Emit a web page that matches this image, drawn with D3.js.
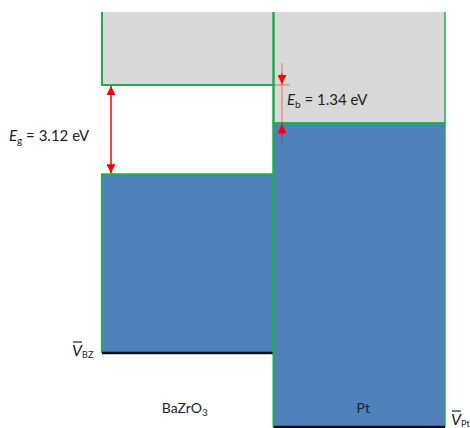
<!DOCTYPE html>
<html><head><meta charset="utf-8">
<script src="https://cdn.jsdelivr.net/npm/d3@7"></script>
<style>body{margin:0;background:#fff}svg{display:block}text{font-family:Lato,"Open Sans",sans-serif;fill:#222}</style>
</head><body><svg id="c" width="470" height="428"></svg>
<script>
// Energy levels in eV (CBM of BaZrO3 = 0)
const materials = ["BaZrO3", "Pt"];
const topLevel = [2.55, 2.55];          // top of drawn region
const upperEdge = [0, -1.34];           // CBM (BaZrO3) / Fermi level (Pt)
const lowerEdge = [-3.12, -1.34];       // VBM (BaZrO3) / Fermi level (Pt)
const bottomLevel = [-9.37, -11.96];    // V̄ reference levels
const gapValues = [3.12, 1.34];         // Eg, Eb

const svg = d3.select("#c");
const x = d3.scaleBand().domain(materials).range([102, 445]).padding(0);
const y = d3.scaleLinear().domain([2.55, -11.96]).range([12, 427]);

const green = "#1fae4f", gray = "#d9d9d9", blue = "#4f81bd", red = "#ff0000";

const defs = svg.append("defs");
defs.append("marker").attr("id","ah").attr("viewBox","0 0 10 10").attr("refX",10).attr("refY",5)
  .attr("markerWidth",10).attr("markerHeight",9).attr("markerUnits","userSpaceOnUse").attr("orient","auto")
  .append("path").attr("d","M0,0L10,5L0,10Z").attr("fill",red);

materials.forEach((m,i)=>{
  const x0 = x(m);
  svg.append("rect").attr("x",x0).attr("y",y(topLevel[i])).attr("width",x.bandwidth())
     .attr("height",y(upperEdge[i])-y(topLevel[i])).attr("fill",gray);
  svg.append("rect").attr("x",x0).attr("y",y(lowerEdge[i])).attr("width",x.bandwidth())
     .attr("height",y(bottomLevel[i])-y(lowerEdge[i])).attr("fill",blue);
});
materials.forEach((m,i)=>{
  const x0 = x(m), x1 = x(m)+x.bandwidth();
  const g = svg.append("g").attr("fill","none").attr("stroke",green).attr("stroke-width",2);
  g.append("path").attr("d",`M${x0},${y(topLevel[i])}V${y(upperEdge[i])}H${x1}`);
  g.append("path").attr("d",`M${x0},${y(bottomLevel[i])}V${y(lowerEdge[i])}H${x1}`);
  g.append("path").attr("d",`M${x1},${y(topLevel[i])}V${y(bottomLevel[i])}`).attr("stroke-width", i===1?1.5:2);
  svg.append("line").attr("x1",x0).attr("x2",x1).attr("y1",y(bottomLevel[i])).attr("y2",y(bottomLevel[i]))
     .attr("stroke","#111").attr("stroke-width",2.5);
});

// Eg arrow (double headed)
const ax = 111;
svg.append("line").attr("x1",ax).attr("x2",ax).attr("y1",y(lowerEdge[0])-1).attr("y2",y(upperEdge[0])+1)
  .attr("stroke",red).attr("stroke-width",1).attr("marker-end","url(#ah)");
svg.append("line").attr("x1",ax).attr("x2",ax).attr("y1",y(upperEdge[0])+1).attr("y2",y(lowerEdge[0])-1)
  .attr("stroke",red).attr("stroke-width",1).attr("marker-end","url(#ah)");

// Eb arrows (pointing inward)
const bx = 282;
svg.append("line").attr("x1",bx).attr("x2",bx).attr("y1",y(upperEdge[0])-22).attr("y2",y(lowerEdge[1])+20)
  .attr("stroke",red).attr("stroke-opacity",0.5).attr("stroke-width",1);
svg.append("line").attr("x1",274).attr("x2",290).attr("y1",y(upperEdge[0])).attr("y2",y(upperEdge[0]))
  .attr("stroke",red).attr("stroke-opacity",0.5).attr("stroke-width",1);
svg.append("line").attr("x1",bx).attr("x2",bx).attr("y1",y(upperEdge[0])-12).attr("y2",y(upperEdge[0])-1)
  .attr("stroke",red).attr("stroke-width",1).attr("marker-end","url(#ah)");
svg.append("line").attr("x1",bx).attr("x2",bx).attr("y1",y(upperEdge[1])+12).attr("y2",y(upperEdge[1])+1)
  .attr("stroke",red).attr("stroke-width",1).attr("marker-end","url(#ah)");

// Labels
function eLabel(xp, yp, sub, val){
  const t = svg.append("text").attr("x",xp).attr("y",yp).attr("font-size",15);
  t.append("tspan").attr("font-style","italic").text("E");
  t.append("tspan").attr("font-size",10).attr("dy",3).text(sub);
  t.append("tspan").attr("dy",-3).text(" = " + val.toFixed(2) + " eV");
}
eLabel(9, 141, "g", gapValues[0]);
eLabel(287, 105, "b", gapValues[1]);

function vLabel(xp, yp, sub){
  const t = svg.append("text").attr("x",xp).attr("y",yp).attr("font-size",16);
  t.append("tspan").attr("font-style","italic").text("V");
  t.append("tspan").attr("font-size",9).attr("dy",2).text(sub);
  svg.append("line").attr("x1",xp+1).attr("x2",xp+10).attr("y1",yp-14).attr("y2",yp-14).attr("stroke","#222").attr("stroke-width",1.2);
}
vLabel(72, 356, "BZ");
vLabel(451, 425, "Pt");

const bz = svg.append("text").attr("x",x("BaZrO3")+x.bandwidth()/2-3).attr("y",413).attr("font-size",14).attr("text-anchor","middle");
bz.append("tspan").text("BaZrO");
bz.append("tspan").attr("font-size",10).attr("dy",3).text("3");
svg.append("text").attr("x",x("Pt")+x.bandwidth()/2+4).attr("y",413).attr("font-size",14).attr("text-anchor","middle").text("Pt");
</script></body></html>
